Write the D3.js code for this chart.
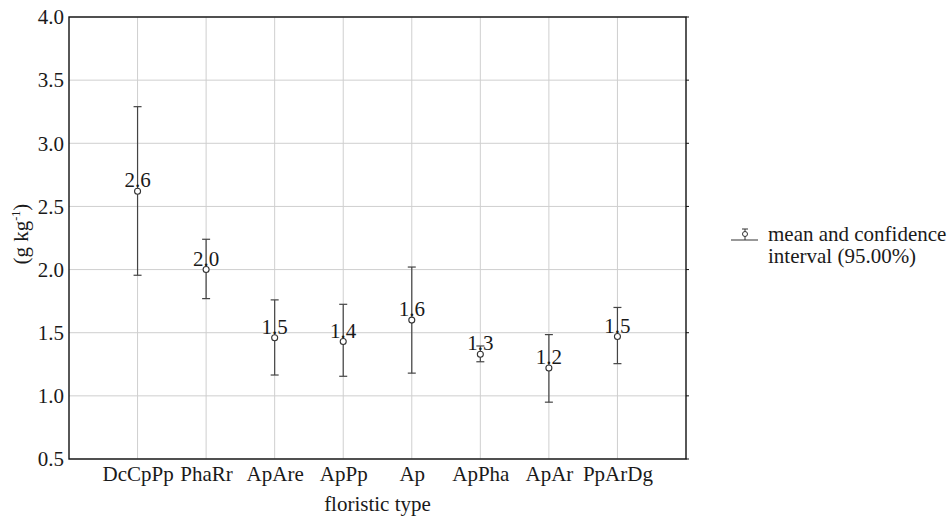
<!DOCTYPE html>
<html>
<head>
<meta charset="utf-8">
<script src="https://cdn.jsdelivr.net/npm/d3@7"></script>
<style>
  body { margin: 0; background: #fff; }
  text { font-family: "Liberation Serif", "Times New Roman", serif; fill: #1a1a1a; }
</style>
</head>
<body>
<div class="chart"></div>
<script>
// data
const types = ['DcCpPp', 'PhaRr', 'ApAre', 'ApPp', 'Ap', 'ApPha', 'ApAr', 'PpArDg'];
const means = [2.62, 2.00, 1.46, 1.43, 1.60, 1.33, 1.22, 1.47];
const lower = [1.955, 1.77, 1.165, 1.155, 1.18, 1.27, 0.95, 1.255];
const upper = [3.29, 2.24, 1.76, 1.725, 2.02, 1.395, 1.485, 1.70];
const meanLabels = ['2.6', '2.0', '1.5', '1.4', '1.6', '1.3', '1.2', '1.5'];
const yTicks = [0.5, 1.0, 1.5, 2.0, 2.5, 3.0, 3.5, 4.0];

const data = types.map((t, i) => ({type: t, mean: means[i], lo: lower[i], hi: upper[i], label: meanLabels[i]}));

const width = 950, height = 517;
const margin = {top: 17, right: 264, bottom: 58, left: 69};
const graphWidth = width - margin.left - margin.right;
const graphHeight = height - margin.top - margin.bottom;
const fontSize = '21px';

const svg = d3.select('.chart').append('svg')
    .attr('width', width)
    .attr('height', height);

const graph = svg.append('g')
    .attr('transform', `translate(${margin.left}, ${margin.top})`);

const x = d3.scalePoint()
    .domain(types)
    .range([0, graphWidth])
    .padding(1);

const y = d3.scaleLinear()
    .domain([0.5, 4.0])
    .range([graphHeight, 0]);

// grid
graph.append('g')
    .selectAll('line')
    .data(yTicks)
    .enter().append('line')
    .attr('x1', 0).attr('x2', graphWidth)
    .attr('y1', d => y(d)).attr('y2', d => y(d))
    .attr('stroke', '#cfcfcf').attr('stroke-width', 1);

graph.append('g')
    .selectAll('line')
    .data(types)
    .enter().append('line')
    .attr('x1', d => x(d)).attr('x2', d => x(d))
    .attr('y1', 0).attr('y2', graphHeight)
    .attr('stroke', '#cfcfcf').attr('stroke-width', 1);

// axes
const yAxis = d3.axisLeft(y).tickValues(yTicks).tickFormat(d3.format('.1f')).tickSize(0).tickPadding(5);
const xAxis = d3.axisBottom(x).tickSize(0).tickPadding(7);

const gy = graph.append('g').call(yAxis);
const gx = graph.append('g').attr('transform', `translate(0, ${graphHeight})`).call(xAxis);
[gx, gy].forEach(g => {
    g.select('.domain').remove();
    g.selectAll('text').style('font-size', fontSize).attr('fill', '#1a1a1a')
        .style('font-family', '"Liberation Serif", "Times New Roman", serif');
});

// right side small ticks
graph.append('g')
    .selectAll('line')
    .data(yTicks)
    .enter().append('line')
    .attr('x1', graphWidth).attr('x2', graphWidth + 3)
    .attr('y1', d => y(d)).attr('y2', d => y(d))
    .attr('stroke', '#111');

// frame
graph.append('rect')
    .attr('width', graphWidth)
    .attr('height', graphHeight)
    .attr('fill', 'none')
    .attr('stroke', '#111')
    .attr('stroke-width', 1.4);

// error bars
const bars = graph.append('g').selectAll('g')
    .data(data)
    .enter().append('g');

bars.append('line')
    .attr('x1', d => x(d.type)).attr('x2', d => x(d.type))
    .attr('y1', d => y(d.lo)).attr('y2', d => y(d.hi))
    .attr('stroke', '#444').attr('stroke-width', 1.2);

bars.append('line')
    .attr('x1', d => x(d.type) - 4).attr('x2', d => x(d.type) + 4)
    .attr('y1', d => y(d.hi)).attr('y2', d => y(d.hi))
    .attr('stroke', '#444').attr('stroke-width', 1.2);

bars.append('line')
    .attr('x1', d => x(d.type) - 4).attr('x2', d => x(d.type) + 4)
    .attr('y1', d => y(d.lo)).attr('y2', d => y(d.lo))
    .attr('stroke', '#444').attr('stroke-width', 1.2);

bars.append('circle')
    .attr('cx', d => x(d.type))
    .attr('cy', d => y(d.mean))
    .attr('r', 3)
    .attr('fill', '#fff')
    .attr('stroke', '#333')
    .attr('stroke-width', 1.1);

bars.append('text')
    .attr('x', d => x(d.type))
    .attr('y', d => y(d.mean) - 4)
    .attr('text-anchor', 'middle')
    .style('font-size', fontSize)
    .text(d => d.label);

// axis titles
svg.append('text')
    .attr('x', margin.left + graphWidth / 2)
    .attr('y', 511)
    .attr('text-anchor', 'middle')
    .style('font-size', fontSize)
    .text('floristic type');

const yl = svg.append('text')
    .attr('transform', `translate(28, ${margin.top + graphHeight / 2 - 4}) rotate(-90)`)
    .attr('text-anchor', 'middle')
    .style('font-size', fontSize);
yl.append('tspan').text('(g kg');
yl.append('tspan').attr('dy', -8).style('font-size', '12px').text('-1');
yl.append('tspan').attr('dy', 8).text(')');

// legend
const legend = svg.append('g').attr('transform', 'translate(731, 240)');
legend.append('line').attr('x1', 0).attr('x2', 27).attr('y1', 0).attr('y2', 0).attr('stroke', '#333');
legend.append('line').attr('x1', 14).attr('x2', 14).attr('y1', -11).attr('y2', 0).attr('stroke', '#333');
legend.append('line').attr('x1', 11).attr('x2', 17).attr('y1', -11).attr('y2', -11).attr('stroke', '#333');
legend.append('circle').attr('cx', 14).attr('cy', -6).attr('r', 2.5).attr('fill', '#fff').attr('stroke', '#333');
legend.append('text').attr('x', 37).attr('y', 1).style('font-size', fontSize).text('mean and confidence');
legend.append('text').attr('x', 37).attr('y', 23).style('font-size', fontSize).text('interval (95.00%)');
</script>
</body>
</html>
